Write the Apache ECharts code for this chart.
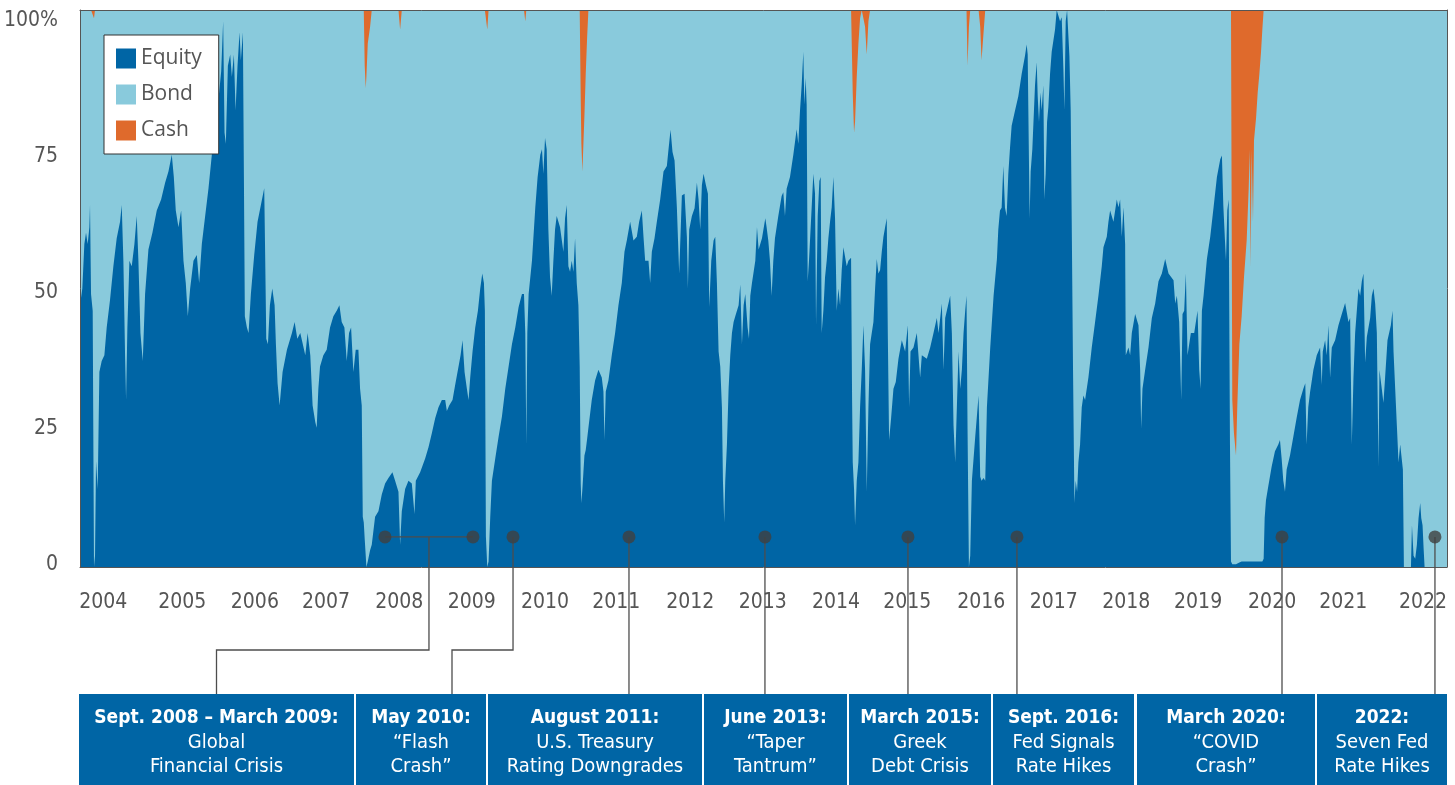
<!DOCTYPE html>
<html>
<head>
<meta charset="utf-8">
<title>Equity / Bond / Cash allocation</title>
<script src="https://cdn.jsdelivr.net/npm/echarts@6/dist/echarts.min.js"></script>
<style>
  html, body { margin: 0; padding: 0; background: #fff; }
  #main { width: 1455px; height: 785px; }
</style>
</head>
<body>
<div id="main"></div>
<script>
// equity share of the portfolio, [year, %]
var equityPoints = [
  [2004.090,47],[2004.122,50],[2004.150,58],[2004.173,60],[2004.196,58],[2004.219,61],[2004.228,65],[2004.242,49],[2004.265,46],[2004.283,0],[2004.297,2],[2004.311,19],[2004.334,14],[2004.357,35],[2004.389,37],[2004.426,38],[2004.458,43],[2004.504,48],[2004.550,54],[2004.596,59],[2004.642,62],[2004.665,65],[2004.688,55],[2004.711,38],[2004.725,30],[2004.743,43],[2004.771,55],[2004.803,54],[2004.840,58],[2004.872,63],[2004.895,55],[2004.923,42],[2004.955,37],[2004.987,49],
  [2005.033,57],[2005.088,60],[2005.148,64],[2005.208,66],[2005.263,69],[2005.309,71],[2005.355,74],[2005.383,70],[2005.410,64],[2005.447,61],[2005.484,64],[2005.516,55],[2005.548,51],[2005.576,45],[2005.608,50],[2005.654,55],[2005.700,56],[2005.732,51],[2005.769,58],[2005.815,63],[2005.861,68],[2005.907,74],[2005.953,80],[2005.999,84],
  [2006.036,89],[2006.063,98],[2006.082,78],[2006.100,76],[2006.128,90],[2006.160,92],[2006.183,88],[2006.211,92],[2006.234,82],[2006.261,90],[2006.289,96],[2006.307,91],[2006.335,96],[2006.349,70],[2006.362,45],[2006.390,43],[2006.413,42],[2006.445,49],[2006.491,56],[2006.537,62],[2006.583,65],[2006.629,68],[2006.643,55],[2006.657,41],[2006.680,40],[2006.707,47],[2006.740,50],[2006.772,47],[2006.790,40],[2006.813,33],[2006.841,29],[2006.882,35],[2006.942,39],
  [2007.011,42],[2007.048,44],[2007.085,41],[2007.126,42],[2007.195,38],[2007.227,42],[2007.264,38],[2007.296,29],[2007.333,26],[2007.352,25],[2007.375,32],[2007.398,36],[2007.444,38],[2007.490,39],[2007.536,43],[2007.582,45],[2007.628,46],[2007.665,47],[2007.697,44],[2007.734,43],[2007.766,37],[2007.798,42],[2007.826,43],[2007.858,35],[2007.890,39],[2007.927,39],[2007.950,32],[2007.973,29],[2007.987,9],
  [2008.001,8],[2008.014,5],[2008.028,2],[2008.037,0],[2008.056,1],[2008.088,3],[2008.111,4],[2008.157,9],[2008.203,10],[2008.249,13],[2008.295,15],[2008.341,16],[2008.396,17],[2008.433,15.5],[2008.479,13.5],[2008.502,4],[2008.525,10],[2008.571,14],[2008.617,15.5],[2008.663,15],[2008.700,9.5],[2008.718,15.5],[2008.778,17],[2008.847,19.5],[2008.893,21.5],[2008.939,24],[2008.985,26.7],
  [2009.031,28.7],[2009.077,30],[2009.123,30],[2009.146,28],[2009.178,29],[2009.224,30],[2009.261,32.7],[2009.307,36],[2009.335,38],[2009.362,40.7],[2009.390,35],[2009.422,32],[2009.445,30],[2009.468,34],[2009.500,38.7],[2009.537,43],[2009.574,46],[2009.606,50],[2009.634,52.7],[2009.657,51],[2009.670,46],[2009.684,5.5],[2009.703,0],[2009.721,1],[2009.744,9],[2009.767,15.5],[2009.813,19.5],[2009.859,23.4],[2009.905,27],[2009.951,32],[2009.997,36],
  [2010.043,40],[2010.089,43],[2010.135,46.7],[2010.181,49],[2010.209,49],[2010.227,42],[2010.241,22],[2010.255,42],[2010.273,49],[2010.319,55],[2010.365,64.6],[2010.397,70],[2010.434,74],[2010.457,75],[2010.476,70.6],[2010.499,77],[2010.522,75],[2010.545,60.6],[2010.568,52],[2010.591,48.7],[2010.614,55],[2010.637,60.6],[2010.660,63],[2010.706,61],[2010.729,61],[2010.752,56.6],[2010.775,62.6],[2010.798,65],[2010.821,54],[2010.844,53],[2010.867,55],[2010.890,53],[2010.913,59],[2010.936,51],[2010.959,47],[2010.977,36],[2010.991,15],
  [2011.000,11.5],[2011.014,14],[2011.028,17],[2011.042,20],[2011.060,21],[2011.079,23],[2011.097,25],[2011.143,30],[2011.189,33.5],[2011.235,35.4],[2011.281,34],[2011.304,31.5],[2011.318,22.8],[2011.336,31.5],[2011.373,33.5],[2011.419,38],[2011.465,42],[2011.511,47],[2011.557,51],[2011.594,56.6],[2011.626,58.6],[2011.672,62],[2011.718,58.6],[2011.764,59.3],[2011.796,62],[2011.833,64],[2011.856,59.3],[2011.879,55],[2011.925,55],[2011.948,51],[2011.971,56.6],
  [2012.008,59],[2012.040,62],[2012.086,66],[2012.132,71],[2012.178,72],[2012.201,75],[2012.229,78.5],[2012.256,74.5],[2012.284,73],[2012.316,64.6],[2012.348,52.7],[2012.385,66.7],[2012.422,67],[2012.454,59.3],[2012.468,50],[2012.486,60.6],[2012.523,63],[2012.560,64.4],[2012.592,69],[2012.615,66],[2012.638,60.6],[2012.661,68.6],[2012.684,70.6],[2012.716,68.6],[2012.744,67],[2012.762,46.7],[2012.790,55],[2012.822,58.6],[2012.845,59.3],[2012.868,51],[2012.891,38.7],[2012.914,36],[2012.937,28.7],[2012.951,15.5],[2012.969,8],[2012.983,15.5],
  [2013.006,22],[2013.029,32],[2013.052,38],[2013.075,42],[2013.098,44],[2013.121,45],[2013.167,47],[2013.190,50.7],[2013.213,40],[2013.236,47],[2013.259,49],[2013.291,43],[2013.310,41],[2013.328,48.7],[2013.351,51],[2013.397,55],[2013.420,61],[2013.443,57],[2013.489,59],[2013.535,62.6],[2013.553,61],[2013.576,58.6],[2013.599,55],[2013.622,48.7],[2013.645,55],[2013.668,59],[2013.714,63],[2013.760,66.6],[2013.783,67.3],[2013.806,63],[2013.829,67.9],[2013.875,70],[2013.921,74],[2013.967,78.6],[2013.990,76],
  [2014.013,81.9],[2014.036,86.5],[2014.059,92.5],[2014.073,83],[2014.091,87.8],[2014.105,83],[2014.119,51.3],[2014.137,55],[2014.174,64.6],[2014.197,70.6],[2014.220,67],[2014.234,43.4],[2014.257,63],[2014.280,69.3],[2014.298,70],[2014.312,42],[2014.335,46],[2014.358,52],[2014.381,55],[2014.404,59],[2014.427,62],[2014.450,64.6],[2014.473,70],[2014.496,62.6],[2014.519,46],[2014.542,50],[2014.565,47],[2014.588,53.3],[2014.611,57.4],[2014.657,54],[2014.680,55],[2014.717,55.5],[2014.731,30],[2014.740,18.8],[2014.758,14],[2014.772,7.5],[2014.795,15.5],[2014.818,18.8],[2014.841,28.7],[2014.864,35.4],[2014.887,43.4],[2014.910,35.4],[2014.933,13.5],[2014.956,28.7],[2014.979,40],
  [2015.002,42],[2015.025,44],[2015.048,50],[2015.071,55.3],[2015.094,52.7],[2015.117,53.3],[2015.140,56.6],[2015.163,59.3],[2015.186,61],[2015.209,62.6],[2015.223,42],[2015.241,22.8],[2015.269,26.8],[2015.301,32],[2015.333,33.2],[2015.370,37.4],[2015.416,40.7],[2015.462,38.7],[2015.499,43.4],[2015.517,28.7],[2015.536,38.7],[2015.577,39.4],[2015.623,42],[2015.646,42],[2015.669,34],[2015.692,38],[2015.761,37.4],[2015.807,39.4],[2015.853,42],[2015.899,44.7],[2015.922,42],[2015.968,47.3],[2015.991,35.4],
  [2016.014,44.7],[2016.083,48.7],[2016.106,42],[2016.129,25.4],[2016.152,18.8],[2016.175,28.7],[2016.198,38.7],[2016.221,32],[2016.244,35.4],[2016.267,42],[2016.290,46],[2016.308,48.7],[2016.322,25],[2016.341,0],[2016.359,2],[2016.382,15.5],[2016.428,23.4],[2016.474,30.8],[2016.497,16.2],[2016.515,15.5],[2016.543,16],[2016.566,15.5],[2016.589,28.7],[2016.635,39.4],[2016.681,48.7],[2016.727,55.3],[2016.746,60.6],[2016.769,64],[2016.792,64.5],[2016.815,72],[2016.838,64.5],[2016.861,63],[2016.884,70.6],[2016.907,75.2],[2016.930,79.2],[2016.976,81.9],
  [2017.022,84.5],[2017.068,88.5],[2017.114,91.8],[2017.137,93.8],[2017.151,92],[2017.165,76.6],[2017.178,62.6],[2017.192,71],[2017.215,75],[2017.252,86.5],[2017.275,90.6],[2017.289,84.5],[2017.307,79.9],[2017.326,85.2],[2017.344,82],[2017.367,86.5],[2017.381,66],[2017.399,70.6],[2017.418,79.9],[2017.436,82.6],[2017.459,88.5],[2017.482,92.5],[2017.528,96.5],[2017.551,100],[2017.574,100],[2017.597,98],[2017.620,98.7],[2017.643,89.4],[2017.657,82],[2017.675,98],[2017.694,100],[2017.712,100],[2017.726,91.8],[2017.744,82],[2017.758,62],[2017.776,35.4],[2017.795,11.5],[2017.813,15.5],[2017.832,13.5],[2017.850,18.8],[2017.873,22],[2017.896,28.7],[2017.919,30.8],[2017.942,30],[2017.988,34],
  [2018.034,39.4],[2018.080,44],[2018.126,48.7],[2018.172,54],[2018.195,57.4],[2018.241,59.3],[2018.264,62],[2018.287,64],[2018.333,62],[2018.379,66],[2018.402,64.6],[2018.425,66],[2018.448,59.3],[2018.471,64.6],[2018.494,58],[2018.503,38],[2018.540,39.4],[2018.563,38],[2018.586,42],[2018.632,45.4],[2018.678,43.4],[2018.701,35.4],[2018.715,24.8],[2018.733,32],[2018.770,35.4],[2018.816,39.4],[2018.862,44.7],[2018.908,47.3],[2018.954,51.3],
  [2019.000,52.7],[2019.046,55.3],[2019.092,52.7],[2019.161,51.5],[2019.184,47.3],[2019.207,48.7],[2019.239,44],[2019.267,30],[2019.285,45.4],[2019.308,46],[2019.331,52.7],[2019.354,38],[2019.400,42],[2019.446,42],[2019.492,46],[2019.515,35.4],[2019.534,32],[2019.552,46],[2019.575,48.7],[2019.621,55.3],[2019.667,59.3],[2019.713,64.6],[2019.759,70],[2019.805,73.2],[2019.828,73.9],[2019.847,65],[2019.870,58.6],[2019.884,55],[2019.902,64],[2019.921,66],[2019.939,22],[2019.953,1],[2019.971,0.5],[2019.994,0.5],
  [2020.022,0.5],[2020.040,0.5],[2020.068,0.8],[2020.100,1],[2020.132,1],[2020.169,1],[2020.197,1],[2020.211,1],[2020.224,1],[2020.238,1],[2020.256,1],[2020.270,1],[2020.298,1],[2020.321,1],[2020.344,1],[2020.367,1],[2020.385,1],[2020.403,1.5],[2020.417,8.8],[2020.435,12],[2020.467,14.5],[2020.513,18],[2020.559,20.8],[2020.605,22],[2020.628,22.8],[2020.651,19.5],[2020.674,15.5],[2020.697,13.5],[2020.720,17.5],[2020.766,20],[2020.812,23.4],[2020.858,26.8],[2020.904,30],[2020.950,32],[2020.977,33],[2020.995,22],
  [2021.018,28.7],[2021.043,31.4],[2021.089,35.4],[2021.135,38],[2021.181,39.4],[2021.204,32.7],[2021.218,38.7],[2021.250,40.7],[2021.273,38],[2021.296,43.4],[2021.319,34],[2021.342,39.4],[2021.388,40.7],[2021.434,43.4],[2021.480,45.4],[2021.526,47.4],[2021.572,44],[2021.595,44.7],[2021.618,22],[2021.641,34],[2021.664,42],[2021.710,50],[2021.733,48.7],[2021.756,51.3],[2021.779,52.7],[2021.802,36.7],[2021.825,41.3],[2021.871,44.7],[2021.894,48.7],[2021.917,50],[2021.940,47.3],[2021.963,42],[2021.986,18],[2021.999,35.4],
  [2022.031,32],[2022.054,29.5],[2022.077,34],[2022.110,40.7],[2022.156,43.4],[2022.179,46],[2022.193,38.7],[2022.216,32],[2022.239,25.4],[2022.262,18.8],[2022.285,22],[2022.308,22],[2022.322,17.5],[2022.336,0],[2022.433,0],[2022.447,7.5],[2022.469,2],[2022.492,1.5],[2022.515,4],[2022.538,8.8],[2022.561,11.5],[2022.575,8.8],[2022.593,7.5],[2022.607,3.5],[2022.621,0],[2022.930,0]
];

// cash share [year, %]; zero on every other date
var cashPoints = [
  [2004.283,1.5],
  [2008.014,10],[2008.028,14],[2008.037,12],[2008.056,6],[2008.088,3],
  [2008.502,3.5],[2009.703,3.5],[2010.227,2],
  [2010.991,16],[2011.000,24],[2011.014,29],[2011.028,24],[2011.042,19],[2011.060,11.5],[2011.079,5],
  [2014.740,15],[2014.758,22],[2014.772,20],[2014.795,12],[2014.818,6],[2014.841,1.5],
  [2014.910,3],[2014.933,8],[2014.956,2],
  [2016.322,10],[2016.341,3],
  [2016.497,3],[2016.515,9],[2016.543,4],
  [2019.971,70],[2019.994,76],[2020.022,80],[2020.040,71],[2020.068,60],[2020.100,55],[2020.132,48],[2020.169,41.4],[2020.197,32],[2020.211,25],[2020.224,46],[2020.238,25],[2020.256,38],[2020.270,23.4],[2020.298,19.5],[2020.321,14.8],[2020.344,11.5],[2020.367,7.5],[2020.385,3.5]
];

var yearLabels = [2004.41, 2005.5, 2006.5, 2007.48, 2008.49, 2009.49, 2010.5, 2011.48, 2012.5, 2013.5, 2014.51, 2015.49, 2016.51, 2017.51, 2018.51, 2019.5, 2020.52, 2021.5, 2022.6];
var valueTicks = [0, 25, 50, 75, 100];

var events = [
  { date: 2008.293, end: 2009.506, drop: 216.5, title: 'Sept. 2008 – March 2009:', body: 'Global\nFinancial Crisis' },
  { date: 2010.058, drop: 452, title: 'May 2010:', body: '“Flash\nCrash”' },
  { date: 2011.656, title: 'August 2011:', body: 'U.S. Treasury\nRating Downgrades' },
  { date: 2013.530, title: 'June 2013:', body: '“Taper\nTantrum”' },
  { date: 2015.501, title: 'March 2015:', body: 'Greek\nDebt Crisis' },
  { date: 2017.003, title: 'Sept. 2016:', body: 'Fed Signals\nRate Hikes' },
  { date: 2020.656, title: 'March 2020:', body: '“COVID\nCrash”' },
  { date: 2022.764, title: '2022:', body: 'Seven Fed\nRate Hikes' }
];
var dotLevel = 5.4;

// layers stacked by hand: equity, then bond (the rest of 100 % after cash), then cash
var cashByDate = {};
cashPoints.forEach(function (p) { cashByDate[p[0].toFixed(3)] = p[1]; });
var equityTop = [], bondTop = [], cashTop = [];
equityPoints.forEach(function (p) {
  var e = p[1], c = cashByDate[p[0].toFixed(3)] || 0, b = 100 - e - c;
  equityTop.push([p[0], e]);
  bondTop.push([p[0], e + b]);
  cashTop.push([p[0], e + b + c]);
});
var dotData = [];
events.forEach(function (ev) {
  dotData.push([ev.date, dotLevel]);
  if (ev.end) dotData.push([ev.end, dotLevel]);
});

var narrow = '"Liberation Sans Narrow", "DejaVu Sans Condensed", sans-serif';
var blue = '#0065a5', light = '#89cadc', orange = '#df6a2c';
var frame = { show: true, onZero: false, lineStyle: { color: '#555', width: 1 } };
var xMin = 2004.09, xMax = 2022.93;

function layer(name, data, color) {
  return {
    name: name, type: 'line', data: data,
    symbol: 'none', showSymbol: false, silent: true,
    lineStyle: { width: 0, opacity: 0 },
    itemStyle: { color: color },
    areaStyle: { color: color, opacity: 1, origin: 'start' }
  };
}

var myChart = echarts.init(document.getElementById('main'));
var option = {
  animation: false,
  grid: { left: 80, right: 8, top: 10, bottom: 218, outerBoundsMode: 'none' },
  legend: {
    data: ['Equity', 'Bond', 'Cash'],
    orient: 'vertical', left: 104, top: 35,
    padding: [13, 17, 13, 12], itemGap: 15, itemWidth: 20, itemHeight: 20,
    icon: 'rect', selectedMode: false,
    backgroundColor: '#fff', borderColor: '#333', borderWidth: 1,
    textStyle: { fontSize: 21, color: '#555', fontFamily: '"Open Sans", sans-serif' }
  },
  xAxis: [{
    type: 'value', min: xMin, max: xMax, position: 'bottom', z: 10,
    axisLine: frame, axisTick: { show: false }, splitLine: { show: false },
    axisLabel: {
      customValues: yearLabels,
      formatter: function (v) { return String(Math.floor(v)); },
      margin: 25, fontSize: 21, color: '#555', fontFamily: narrow
    }
  }, {
    type: 'value', min: xMin, max: xMax, position: 'top', z: 10,
    axisLine: frame, axisTick: { show: false }, axisLabel: { show: false }, splitLine: { show: false }
  }],
  yAxis: [{
    type: 'value', min: 0, max: 100, position: 'left', z: 10,
    axisLine: frame, axisTick: { show: false }, axisLabel: { show: false }, splitLine: { show: false }
  }, {
    // label-only axis: the tick text in the picture sits a little off the grid
    type: 'value', min: -0.37, max: 102.02, position: 'left',
    axisLine: { show: false }, axisTick: { show: false }, splitLine: { show: false },
    axisLabel: {
      customValues: valueTicks,
      formatter: function (v) { return v === 100 ? '100%' : String(v); },
      margin: 22, fontSize: 21, color: '#555', fontFamily: narrow
    }
  }, {
    type: 'value', min: 0, max: 100, position: 'right', z: 10,
    axisLine: frame, axisTick: { show: false }, axisLabel: { show: false }, splitLine: { show: false }
  }],
  // painted back to front so each layer shows between the one below and its own top
  series: [
    layer('Cash', cashTop, orange),
    layer('Bond', bondTop, light),
    layer('Equity', equityTop, blue),
    {
      type: 'scatter', data: dotData, symbolSize: 13, silent: true, z: 20,
      itemStyle: { color: '#404040' }
    }
  ]
};
myChart.setOption(option);

// leader lines and event boxes under the axis
var boxSpans = [[79, 354], [356, 486], [488, 702], [704, 847], [849, 991], [993, 1134], [1137, 1315], [1317, 1447]];
var elbowY = 650, boxTop = 694, boxBottom = 785;
var lineStyle = { stroke: '#4d4d4d', lineWidth: 1.3, fill: null };
var graphics = [];
function px(d) { return myChart.convertToPixel({ xAxisIndex: 0, yAxisIndex: 0 }, [d, dotLevel]); }

events.forEach(function (ev, i) {
  var p = px(ev.date), pts;
  if (ev.end) {
    var q = px(ev.end);
    graphics.push({ type: 'polyline', z: 15, shape: { points: [p, q] }, style: lineStyle });
    var mid = (p[0] + q[0]) / 2;
    pts = [[mid, p[1]], [mid, elbowY], [ev.drop, elbowY], [ev.drop, boxTop]];
  } else if (ev.drop) {
    pts = [p, [p[0], elbowY], [ev.drop, elbowY], [ev.drop, boxTop]];
  } else {
    pts = [p, [p[0], boxTop]];
  }
  graphics.push({ type: 'polyline', z: 15, shape: { points: pts }, style: lineStyle });

  var s = boxSpans[i], cx = (s[0] + s[1]) / 2;
  graphics.push({
    type: 'rect', z: 15,
    shape: { x: s[0], y: boxTop, width: s[1] - s[0], height: boxBottom - boxTop },
    style: { fill: blue }
  });
  graphics.push({
    type: 'text', z: 16,
    style: { text: ev.title, x: cx, y: 718, align: 'center', verticalAlign: 'middle',
             fill: '#fff', font: 'bold 19px ' + narrow }
  });
  graphics.push({
    type: 'text', z: 16,
    style: { text: ev.body, x: cx, y: 755, align: 'center', verticalAlign: 'middle',
             fill: '#fff', font: '20px ' + narrow, lineHeight: 24 }
  });
});
myChart.setOption({ graphic: graphics });
</script>
</body>
</html>
